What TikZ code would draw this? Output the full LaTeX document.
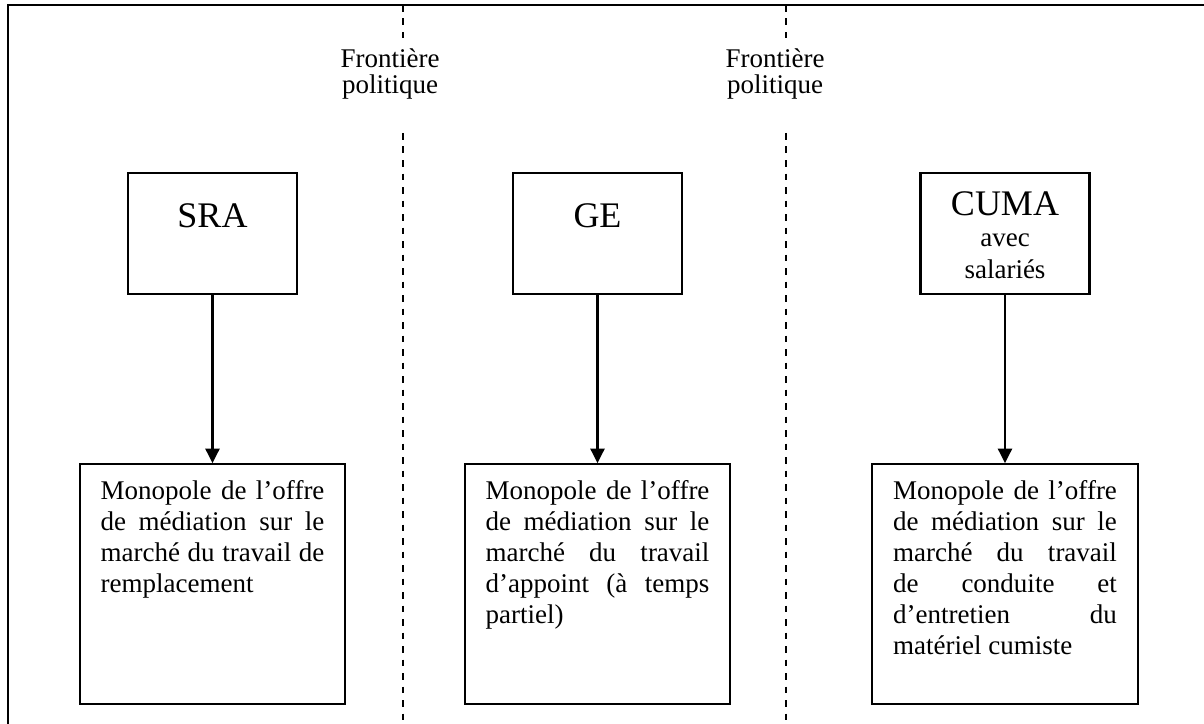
\documentclass[tikz,border=0pt]{standalone}
\usepackage{fontspec}
\setmainfont{Liberation Serif}
\usetikzlibrary{positioning, arrows.meta}
\newcommand{\boxfont}{\fontsize{12pt}{13.8pt}\selectfont}
\newcommand{\acrofont}{\fontsize{16pt}{19pt}\selectfont}
\newcommand{\frontfont}{\fontsize{12pt}{11.5pt}\selectfont}

\begin{document}
\begin{tikzpicture}[x=0.4444pt,y=-0.4444pt,>={Triangle[length=6.5pt,width=6.3pt]},
  actor/.style={draw,line width=0.9pt,text width=67.1pt,inner xsep=4pt,inner ysep=4pt,
    align=center,text height=20.4pt,text depth=25.4pt,font=\acrofont},
  market/.style={draw,line width=0.9pt,text width=99.5pt,inner xsep=9.15pt,inner ysep=6pt,
    align=justify,text height=9.6pt,text depth=85.1pt,font=\boxfont},
  frontier/.style={align=center,font=\frontfont},
  border/.style={dash pattern=on 3pt off 3pt,line width=0.6pt},
  node distance=74.7pt]
\useasboundingbox (0,0) rectangle (1204,724);
%%First place the nodes
\node[actor] (sra) at (212.5,233.5) {SRA};
\node[actor] (ge) at (597.5,233.5) {GE};
\node[actor,font=\boxfont,text height=15.1pt,text depth=30.7pt] (cuma) at (1005,233.5)
  {{\acrofont CUMA}\\avec\\salariés};
\node[market] (sram) [below=of sra]
  {Monopole de l’offre\linebreak de médiation sur le\linebreak marché du travail de\linebreak remplacement};
\node[market] (gem) [below=of ge]
  {Monopole de l’offre\linebreak de médiation sur le\linebreak marché du travail\linebreak d’appoint (à temps\linebreak partiel)};
\node[market] (cumam) [below=of cuma]
  {Monopole de l’offre\linebreak de médiation sur le\linebreak marché du travail\linebreak de conduite et\linebreak d’entretien du\linebreak matériel cumiste};
\node[frontier] (f1) at (390,74) {Frontière\\politique};
\node[frontier] (f2) at (775,74) {Frontière\\politique};
%%The political borders
\coordinate (d1a) at (403,5);
\coordinate (d1b) at (403,38);
\coordinate (d1c) at (403,133);
\coordinate (d1d) at (403,724);
\coordinate (d2a) at (786,5);
\coordinate (d2b) at (786,38);
\coordinate (d2c) at (786,133);
\coordinate (d2d) at (786,724);
\draw[border] (d1a) -- (d1b) (d1c) -- (d1d);
\draw[border] (d2a) -- (d2b) (d2c) -- (d2d);
%%Draw the frame
\draw[line width=0.9pt] (1204,5) -- (8,5) -- (8,724);
%%Draw the arrows
\draw[->,line width=1pt]
(sra) edge (sram)
(ge) edge (gem)
(cuma) edge (cumam);
\end{tikzpicture}
\end{document}
